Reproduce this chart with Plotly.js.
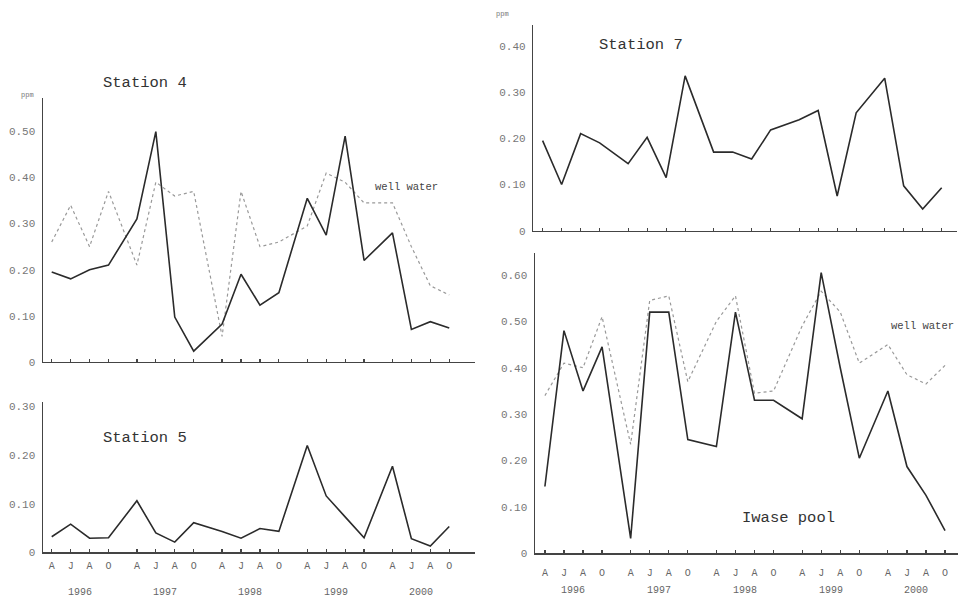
<!DOCTYPE html>
<html>
<head>
<meta charset="utf-8">
<script src="https://cdn.plot.ly/plotly-3.0.1.min.js"></script>
<style>html,body{margin:0;padding:0;background:#fff}#chart{width:962px;height:599px}</style>
</head>
<body>
<div id="chart"></div>
<script>
// ---- data ----
const months = ['A','J','A','O'];
const years = ['1996','1997','1998','1999','2000'];

const station4 = [0.195,0.18,0.20,0.21,0.31,0.50,0.097,0.023,0.082,0.19,0.123,0.15,0.355,0.275,0.49,0.22,0.28,0.07,0.087,0.073];
const station4Well = [0.26,0.34,0.25,0.37,0.21,0.39,0.36,0.37,0.055,0.37,0.25,0.26,0.295,0.41,0.39,0.345,0.345,0.25,0.165,0.145];
const station5 = [0.032,0.058,0.029,0.03,0.106,0.04,0.021,0.061,0.043,0.029,0.049,0.043,0.22,0.116,0.073,0.03,0.177,0.028,0.013,0.053];
const station7 = [0.195,0.10,0.21,0.19,0.145,0.202,0.115,0.335,0.17,0.17,0.155,0.218,0.24,0.26,0.075,0.255,0.33,0.097,0.047,0.093];
const iwase = [0.144,0.48,0.35,0.445,0.032,0.52,0.52,0.245,0.23,0.52,0.33,0.33,0.29,0.605,0.40,0.205,0.35,0.187,0.125,0.049];
const iwaseWell = [0.34,0.41,0.40,0.51,0.235,0.545,0.555,0.37,0.50,0.555,0.345,0.35,0.49,0.565,0.52,0.41,0.45,0.385,0.365,0.405];

// ---- x positions (month index with a gap between years) ----
const xs = [], tlab = [];
years.forEach((y, yi) => months.forEach((m, mi) => { xs.push(yi * 4.5 + mi); tlab.push(m); }));
const yearCenters = years.map((y, yi) => yi * 4.5 + 1.5);

const FONT = 'Liberation Mono, DejaVu Sans Mono, monospace';
const solid = {color: '#2b2b2b', width: 1.6};
const dotted = {color: '#999999', width: 1.2, dash: 'dot'};

function tr(y, xa, ya, line) {
  return {x: xs, y: y, xaxis: xa, yaxis: ya, mode: 'lines', line: line, hoverinfo: 'skip', showlegend: false};
}
const data = [
  tr(station4Well, 'x', 'y', dotted),
  tr(station4, 'x', 'y', solid),
  tr(station5, 'x2', 'y2', solid),
  tr(station7, 'x3', 'y3', solid),
  tr(iwaseWell, 'x4', 'y4', dotted),
  tr(iwase, 'x4', 'y4', solid)
];

function xax(domain, range, labels, anchor, standoff) {
  return {domain: domain, range: range, anchor: anchor, showgrid: false, zeroline: false,
    showline: true, linecolor: '#444', linewidth: 1.5,
    tickmode: 'array', tickvals: xs, ticktext: labels ? tlab : xs.map(() => ''),
    ticks: 'inside', ticklen: 3, tickcolor: '#444', tickwidth: 1.2,
    ticklabelstandoff: standoff || 3,
    tickfont: {family: FONT, size: 10, color: '#666'}};
}
function yax(domain, range, vals, anchor) {
  return {domain: domain, range: range, anchor: anchor, showgrid: false, zeroline: false,
    showline: true, linecolor: '#444', linewidth: 1.5,
    tickmode: 'array', tickvals: vals, ticktext: vals.map(v => v === 0 ? '0' : v.toFixed(2)),
    ticks: '', ticklabelstandoff: 4,
    tickfont: {family: FONT, size: 11, color: '#777'}};
}

const ann = [];
function txt(t, x, y, size, color) {
  ann.push({text: t, x: x, y: y, xref: 'paper', yref: 'paper', showarrow: false,
    xanchor: 'center', yanchor: 'middle', font: {family: FONT, size: size, color: color || '#333'}});
}
txt('Station 4', 145/962, 1 - 83/599, 15.5);
txt('Station 5', 145/962, 1 - 438/599, 15.5);
txt('Station 7', 641/962, 1 - 45/599, 15.5);
txt('Iwase pool', 788/962, 1 - 518/599, 15.5);
txt('well water', 406/962, 1 - 187/599, 10.5, '#444');
txt('well water', 922/962, 1 - 326/599, 10.5, '#444');
txt('ppm', 27/962, 1 - 95/599, 7, '#777');
txt('ppm', 503/962, 1 - 14/599, 7, '#777');
yearCenters.forEach((c, i) => {
  ann.push({text: years[i], x: c, y: 1 - 592/599, xref: 'x2', yref: 'paper', showarrow: false,
    xanchor: 'center', yanchor: 'middle', font: {family: FONT, size: 10, color: '#666'}});
  ann.push({text: years[i], x: c, y: 1 - 590/599, xref: 'x4', yref: 'paper', showarrow: false,
    xanchor: 'center', yanchor: 'middle', font: {family: FONT, size: 10, color: '#666'}});
});

const layout = {
  width: 962, height: 599, margin: {l: 0, r: 0, t: 0, b: 0},
  paper_bgcolor: '#fff', plot_bgcolor: '#fff', showlegend: false,
  xaxis: xax([43/962, 475/962], [-0.46, 22.36], false, 'y'),
  yaxis: yax([1 - 361.7/599, 1 - 98/599], [0, 0.573], [0, 0.1, 0.2, 0.3, 0.4, 0.5], 'x'),
  xaxis2: xax([43/962, 475/962], [-0.46, 22.36], true, 'y2'),
  yaxis2: yax([1 - 552.3/599, 1 - 401.7/599], [0, 0.31], [0, 0.1, 0.2, 0.3], 'x2'),
  xaxis3: xax([533.3/962, 956.7/962], [-0.49, 21.79], false, 'y3'),
  yaxis3: yax([1 - 230.7/599, 1 - 25/599], [0, 0.445], [0, 0.1, 0.2, 0.3, 0.4], 'x3'),
  xaxis4: xax([535/962, 958/962], [-0.52, 21.68], true, 'y4', 9),
  yaxis4: yax([1 - 553.3/599, 1 - 252.7/599], [0, 0.648], [0, 0.1, 0.2, 0.3, 0.4, 0.5, 0.6], 'x4'),
  annotations: ann
};

Plotly.newPlot('chart', data, layout, {staticPlot: true, displayModeBar: false});
</script>
</body>
</html>
